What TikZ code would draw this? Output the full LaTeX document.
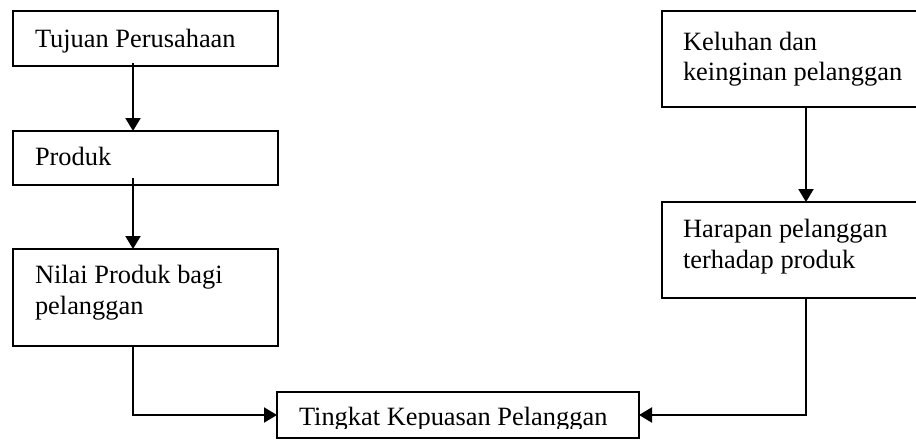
\documentclass[tikz,border=0pt]{standalone}
\usepackage{fontspec}
\setmainfont{Liberation Serif}
\usetikzlibrary{arrows.meta,calc}
\begin{document}
\begin{tikzpicture}[x=1pt,y=-1pt,
  boxnode/.style={draw=black,line width=1.3pt,rectangle,inner sep=0pt,outer sep=0pt,anchor=north west},
  txt/.style={anchor=base west,inner sep=0pt,outer sep=0pt,font=\fontsize{26.4}{30}\selectfont},
  conn/.style={line width=2pt,-{Triangle[width=15pt,length=13pt]}}]
\useasboundingbox (0,0) rectangle (916,440);
\fill[white] (0,0) rectangle (916,440);
\clip (0,0) rectangle (916,440);
% boxes
\node[boxnode,minimum width=265pt,minimum height=55pt] (tujuan) at (13,11) {};
\node[boxnode,minimum width=265pt,minimum height=54pt] (produk) at (13,131) {};
\node[boxnode,minimum width=265pt,minimum height=97pt] (nilai) at (13,249) {};
\node[boxnode,minimum width=270pt,minimum height=96pt] (keluhan) at (662,11) {};
\node[boxnode,minimum width=270pt,minimum height=96pt] (harapan) at (662,202) {};
\node[boxnode,minimum width=362pt,minimum height=46pt] (tingkat) at (277,392) {};
% texts
\node[txt] (t1) at (35,47) {Tujuan Perusahaan};
\node[txt] (t2) at (35,165) {Produk};
\node[txt] (t3a) at (35,283) {Nilai Produk bagi};
\node[txt] (t3b) at (35,314) {pelanggan};
\node[txt] (t4a) at (683,50) {Keluhan dan};
\node[txt] (t4b) at (683,80) {keinginan pelanggan};
\node[txt] (t5a) at (683,237) {Harapan pelanggan};
\node[txt] (t5b) at (683,268) {terhadap produk};
\begin{scope}
\clip (277,392) rectangle (639,428);
\node[txt] (t6) at (299,425.5) {Tingkat Kepuasan Pelanggan};
\end{scope}
% connectors
\coordinate (c1) at ($(tujuan.south west)+(120,-3)$);
\coordinate (c2) at ($(produk.south west)+(120,-7)$);
\coordinate (c4) at ($(keluhan.south west)+(144,0)$);
\draw[conn] (c1) -- (c1 |- produk.north);
\draw[conn] (c2) -- (c2 |- nilai.north);
\draw[conn] ($(nilai.south west)+(120,0)$) |- (tingkat.west);
\draw[conn] (c4) -- (c4 |- harapan.north);
\draw[conn] ($(harapan.south west)+(144,0)$) |- (tingkat.east);
\end{tikzpicture}
\end{document}
